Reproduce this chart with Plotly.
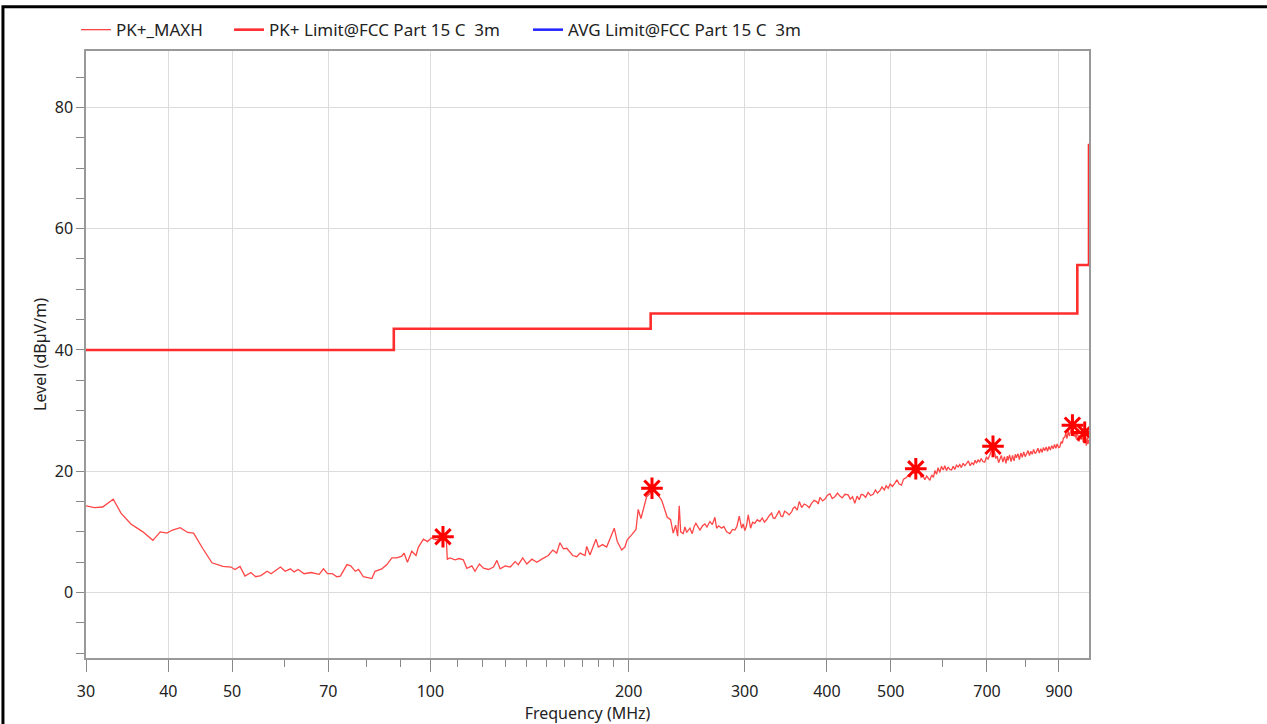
import plotly.graph_objects as go

# ---- data ----
pk_freq = [30.0, 30.9, 31.8, 33.0, 33.9, 35.1, 36.6, 37.9, 38.9, 39.8, 40.6, 41.7, 42.8, 43.7, 45.1, 46.6,
           48.4, 49.8, 50.5, 51.4, 52.3, 53.4, 54.3, 55.3, 56.5, 57.3, 59.2, 60.2, 61.3, 62.1, 63.0, 64.3,
           65.9, 67.8, 68.8, 69.8, 71.0, 72.1, 73.0, 74.7, 75.7, 76.9, 77.8, 79.1, 81.5, 82.4, 84.4, 85.9,
           87.4, 88.9, 90.5, 91.2, 92.3, 93.7, 95.1, 95.9, 97.6, 99.0, 100.3, 102.0, 104.5, 105.7, 106.1,
           107.1, 109.0, 110.6, 112.2, 113.6, 115.6, 116.9, 118.7, 120.4, 122.5, 124.7, 126.2, 127.6, 129.9,
           132.2, 134.5, 136.0, 138.1, 140.1, 142.6, 145.1, 147.6, 151.0, 153.4, 155.5, 157.3, 159.2, 161.1,
           164.5, 166.8, 168.8, 171.7, 172.7, 174.7, 176.7, 178.4, 179.9, 182.6, 185.2, 187.8, 190.2, 192.2,
           195.2, 197.4, 199.0, 202.1, 205.2, 206.8, 208.8, 211.0, 213.0, 215.5, 217.0, 219.0, 221.1, 224.5,
           227.1, 228.9, 231.6, 233.7, 235.7, 237.4, 238.7, 239.9, 242.0, 243.5, 245.0, 247.8, 249.8, 251.5,
           253.0, 256.6, 259.0, 261.1, 263.0, 265.7, 268.0, 270.4, 272.0, 274.0, 276.8, 279.0, 281.7, 285.0,
           287.5, 290.0, 292.0, 294.4, 296.9, 298.5, 300.3, 302.0, 303.8, 306.3, 308.5, 310.9, 313.5, 316.4,
           319.0, 321.5, 323.9, 326.5, 329.7, 331.5, 333.5, 336.0, 338.6, 340.5, 342.7, 345.0, 347.5, 350.5,
           353.6, 355.5, 357.7, 360.5, 363.2, 366.2, 369.5, 372.6, 376.0, 379.1, 382.5, 385.9, 388.0, 390.4,
           394.0, 397.3, 400.5, 404.2, 407.5, 411.3, 415.0, 418.6, 422.0, 426.0, 430.8, 434.0, 437.5, 441.0,
           444.5, 448.0, 451.0, 454.1, 458.0, 462.0, 466.0, 470.2, 474.0, 477.5, 481.4, 485.0, 489.0, 492.0,
           495.6, 499.0, 503.0, 507.1, 511.0, 515.0, 519.1, 523.0, 527.0, 531.5, 535.0, 539.0, 543.0, 545.8,
           549.0, 552.0, 556.0, 559.5, 563.4, 567.0, 570.0, 573.3, 577.0, 580.5, 583.5, 586.8, 590.0, 593.5,
           597.0, 600.6, 604.0, 607.5, 611.0, 614.5, 618.4, 622.0, 625.5, 629.0, 632.8, 636.5, 640.0, 644.0,
           648.0, 651.8, 656.0, 660.0, 664.0, 668.0, 671.5, 674.8, 678.5, 682.0, 686.0, 690.0, 694.4, 698.5,
           702.5, 706.5, 710.5, 714.9, 718.5, 722.0, 725.5, 729.0, 732.0, 736.0, 740.0, 744.0, 748.0, 751.5,
           753.6, 757.5, 761.5, 765.5, 769.5, 773.0, 776.0, 780.0, 784.0, 788.0, 792.0, 796.0, 800.0, 803.7,
           808.0, 812.0, 816.0, 820.0, 824.0, 828.0, 832.3, 836.5, 840.5, 845.0, 849.0, 852.5, 856.9, 861.0,
           865.0, 869.5, 873.5, 878.0, 882.3, 886.5, 890.5, 894.5, 899.0, 903.1, 907.0, 911.0, 914.5, 918.7,
           922.0, 926.0, 930.0, 934.0, 938.0, 941.0, 943.7, 946.5, 949.5, 952.5, 955.5, 958.5, 962.4, 966.0,
           969.5, 973.0, 976.5, 980.0, 983.0, 985.1, 988.0, 991.0, 994.0, 996.6, 999.0]
pk_level = [14.3, 14.0, 14.1, 15.4, 13.1, 11.3, 10.0, 8.6, 10.0, 9.8, 10.3, 10.7, 9.9, 9.8, 7.3, 4.9,
            4.3, 4.2, 3.8, 4.3, 2.7, 3.3, 2.6, 2.8, 3.5, 3.1, 4.2, 3.5, 3.9, 3.4, 3.8, 3.1,
            3.3, 3.0, 3.9, 3.1, 3.1, 2.6, 2.7, 4.6, 4.4, 3.5, 3.8, 2.6, 2.3, 3.5, 3.9, 4.6,
            5.7, 5.7, 6.0, 6.5, 5.0, 6.8, 6.1, 7.5, 8.8, 8.4, 9.0, 8.7, 9.1, 9.0, 5.5,
            5.7, 5.4, 5.6, 5.4, 4.0, 4.4, 3.5, 4.7, 4.0, 3.8, 4.2, 5.3, 3.9, 4.4,
            4.2, 5.1, 4.6, 5.7, 4.7, 5.5, 5.0, 5.5, 6.1, 7.0, 6.5, 8.2, 7.2, 7.3,
            6.1, 5.9, 6.5, 6.1, 7.6, 6.2, 7.5, 8.8, 7.5, 7.9, 7.5, 9.0, 10.6, 8.4,
            7.0, 7.5, 8.7, 9.5, 10.4, 13.7, 12.2, 14.1, 15.8, 16.3, 17.0, 16.8, 16.3, 15.2,
            13.6, 12.4, 12.0, 9.8, 11.1, 9.3, 14.3, 10.0, 9.7, 10.8, 9.9, 10.6, 9.7, 10.9,
            11.4, 10.3, 11.0, 11.3, 10.8, 11.7, 11.2, 12.4, 10.6, 11.0, 10.6, 10.9, 10.0, 9.7,
            10.4, 10.3, 10.9, 12.6, 10.6, 11.3, 10.2, 11.0, 12.8, 10.6, 11.6, 11.4, 12.0, 11.7,
            12.3, 11.6, 12.0, 12.6, 13.1, 12.3, 12.2, 12.9, 13.5, 12.6, 12.5, 13.4, 13.2, 12.8,
            13.3, 13.9, 14.1, 13.6, 15.0, 14.0, 14.6, 14.4, 14.0, 14.7, 15.2, 15.0, 14.6, 15.7,
            15.1, 15.4, 16.0, 16.3, 15.5, 15.8, 16.4, 15.9, 15.6, 16.2, 16.1, 15.4, 15.8, 14.7,
            15.9, 15.3, 16.2, 16.1, 15.7, 16.5, 16.0, 16.2, 16.9, 16.4, 16.8, 17.4, 16.9, 17.6,
            17.2, 17.9, 17.5, 18.0, 18.6, 17.9, 17.7, 18.7, 18.9, 19.3, 19.1, 20.0, 19.6, 20.4,
            19.7, 20.1, 19.0, 19.3, 18.6, 19.2, 18.8, 18.5, 19.4, 19.0, 20.1, 19.5, 20.6, 19.8,
            20.8, 20.2, 20.9, 20.1, 20.7, 20.3, 20.2, 20.8, 20.3, 21.0, 20.7, 21.1, 20.6, 21.3,
            20.9, 21.3, 21.7, 20.9, 21.4, 21.1, 21.8, 21.3, 21.9, 21.5, 22.1, 21.6, 21.5, 22.3,
            22.0, 22.6, 23.4, 24.0, 23.2, 22.1, 22.5, 21.4, 21.9, 22.6, 21.5, 22.4, 21.3, 22.5,
            21.8, 22.7, 21.6, 22.6, 21.7, 22.8, 22.2, 22.9, 21.9, 23.0, 22.3, 23.2, 22.4, 22.9,
            23.4, 22.6, 23.3, 22.8, 23.6, 22.9, 23.2, 23.8, 23.0, 23.7, 23.1, 23.9, 23.4, 24.0,
            23.3, 24.1, 23.5, 24.2, 23.7, 24.4, 23.8, 24.5, 23.9, 24.0, 24.9, 24.6, 25.5, 25.6,
            26.3, 25.4, 26.6, 25.8, 26.9, 27.3, 27.5, 26.8, 25.7, 26.5, 25.4, 26.2, 25.9, 24.9,
            26.0, 25.2, 26.1, 24.8, 26.0, 26.4, 25.3, 24.2, 25.6, 24.5, 25.2]

limit_freq = [30, 88, 216, 960, 1000]
limit_level = [40, 43.5, 46, 54, 74]

marker_freq = [104.5, 217.0, 545.8, 714.9, 943.7, 985.1]
marker_level = [9.2, 17.2, 20.4, 24.1, 27.6, 26.4]

x_major = [30, 40, 50, 70, 100, 200, 300, 400, 500, 700, 900]
x_minor = [60, 80, 90, 110, 120, 130, 140, 150, 160, 170, 180, 190, 600, 800]
y_major = [0, 20, 40, 60, 80]
y_minor = [-10, -5, 5, 10, 15, 25, 30, 35, 45, 50, 55, 65, 70, 75, 85]

FONT = "Noto Sans"
TXT = "#222"
fig = go.Figure()

fig.add_trace(go.Scatter(x=pk_freq, y=pk_level, mode="lines", name="PK+_MAXH", legend="legend",
                         line=dict(color="rgb(255,70,70)", width=1.3)))
fig.add_trace(go.Scatter(x=limit_freq, y=limit_level, mode="lines", line_shape="hv",
                         name="PK+ Limit@FCC Part 15 C\u00a0 3m", legend="legend2",
                         line=dict(color="rgb(255,45,45)", width=2.6)))
fig.add_trace(go.Scatter(x=[None], y=[None], mode="lines", legend="legend3",
                         name="AVG Limit@FCC Part 15 C\u00a0 3m",
                         line=dict(color="rgb(40,40,255)", width=2.6)))
fig.add_trace(go.Scatter(x=marker_freq, y=marker_level, mode="markers", showlegend=False,
                         marker=dict(symbol="asterisk-open", size=18, color="rgb(255,0,0)",
                                     line=dict(color="rgb(255,0,0)", width=3))))

leg = dict(orientation="h", y=1.0344, xanchor="left", yanchor="middle",
           font=dict(family=FONT, size=17, color=TXT), bgcolor="rgba(0,0,0,0)", itemwidth=30)

fig.update_layout(
    width=1267, height=724,
    margin=dict(l=86, r=178, t=48, b=66),
    paper_bgcolor="white", plot_bgcolor="white",
    font=dict(family=FONT, size=16, color=TXT),
    showlegend=True,
    legend=dict(leg, x=-0.010),
    legend2=dict(leg, x=0.1426),
    legend3=dict(leg, x=0.4407),
    shapes=[dict(type="rect", xref="paper", yref="paper", x0=-0.0828, x1=1.3, y0=-0.3, y1=1.073,
                 line=dict(color="black", width=3), fillcolor="rgba(0,0,0,0)", layer="above")],
)

fig.update_xaxes(type="log", range=[1.47712, 3.0], tickmode="array", tickvals=x_major,
                 ticktext=[str(v) for v in x_major], ticks="outside", ticklen=12, tickcolor="#888",
                 showgrid=True, gridcolor="#dcdcdc", gridwidth=1,
                 showline=True, linecolor="#999", linewidth=1.5, mirror=True, zeroline=False,
                 ticklabelstandoff=6,
                 minor=dict(tickmode="array", tickvals=x_minor, ticks="outside", ticklen=7,
                            tickcolor="#888", showgrid=False),
                 title=dict(text="Frequency (MHz)", standoff=0, font=dict(family=FONT, size=16)),
                 tickfont=dict(family=FONT, size=16, color=TXT))
fig.update_yaxes(range=[-10.8, 89.3], tickmode="array", tickvals=y_major, ticks="outside", ticklen=8,
                 tickcolor="#888", showgrid=True, gridcolor="#dcdcdc", gridwidth=1,
                 showline=True, linecolor="#999", linewidth=1.5, mirror=True, zeroline=False,
                 minor=dict(tickmode="array", tickvals=y_minor, ticks="outside", ticklen=8,
                            tickcolor="#888", showgrid=False),
                 title=dict(text="Level (dBµV/m)", standoff=4, font=dict(family=FONT, size=16)),
                 tickfont=dict(family=FONT, size=16, color=TXT))

fig.write_html("out.html", config={"displayModeBar": False},
               post_script="document.body.style.margin='0';document.body.style.overflow='hidden';")
